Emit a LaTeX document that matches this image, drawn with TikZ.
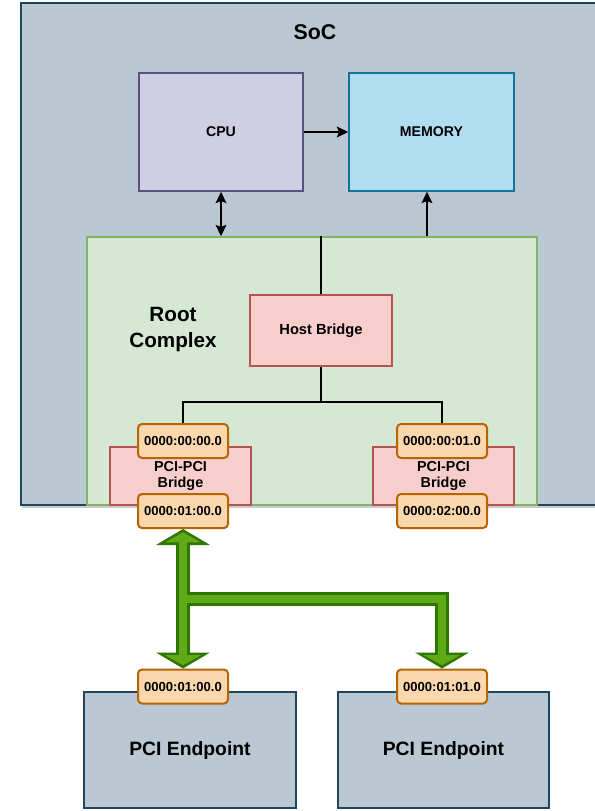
\documentclass[tikz,border=0pt]{standalone}
\usepackage{fontspec}
\setmainfont{Liberation Sans}
\usetikzlibrary{arrows.meta,shadows}
\definecolor{socfill}{HTML}{BAC8D3}
\definecolor{socline}{HTML}{23445D}
\definecolor{cpufill}{HTML}{D0CEE2}
\definecolor{cpuline}{HTML}{56517E}
\definecolor{memfill}{HTML}{B1DDF0}
\definecolor{memline}{HTML}{10739E}
\definecolor{rcfill}{HTML}{D5E8D4}
\definecolor{rcline}{HTML}{82B366}
\definecolor{brfill}{HTML}{F8CECC}
\definecolor{brline}{HTML}{B85450}
\definecolor{portfill}{HTML}{FAD7AC}
\definecolor{portline}{HTML}{B46504}
\definecolor{busdark}{HTML}{2D7600}
\definecolor{buslight}{HTML}{60A917}

\begin{document}
\begin{tikzpicture}[x=0.75pt, y=-0.75pt, every node/.style={font=\bfseries}, >={Stealth[length=8.5pt,width=8pt,inset=1.5pt]}]
  \tikzstyle{mybox}=[draw,line width=1.1pt,inner sep=0pt,align=center,font=\fontsize{10.6}{12}\bfseries]
  \tikzstyle{myport}=[draw=portline,fill=portfill,line width=1.5pt,rounded corners=3pt,minimum width=67.5pt,minimum height=25.5pt,inner sep=0pt,font=\fontsize{9.8}{10}\bfseries]
  \tikzstyle{mywire}=[line width=1.4pt]
  \tikzstyle{busout}=[draw=busdark,line width=10.5pt,line join=miter]
  \tikzstyle{busin}=[draw=buslight,line width=6pt,line join=miter,shorten >=2.5pt,shorten <=2.5pt]
  \useasboundingbox (0,0) rectangle (594,811);
  % SoC and its parts
  \node[mybox,draw=socline,fill=socfill,line width=1.5pt,minimum width=434.25pt,minimum height=376.5pt,
        drop shadow={shadow xshift=1pt,shadow yshift=-2.5pt,opacity=0.4}] (soc) at (310.5,254) {};
  \node[font=\fontsize{16}{18}\bfseries] (soclbl) at (315,32) {SoC};
  \node[mybox,draw=cpuline,fill=cpufill,minimum width=123pt,minimum height=88.5pt] (cpu) at (221,132) {CPU};
  \node[mybox,draw=memline,fill=memfill,minimum width=123.75pt,minimum height=88.5pt] (mem) at (431.5,132) {MEMORY};
  \node[mybox,draw=rcline,fill=rcfill,minimum width=337.5pt,minimum height=201pt] (rc) at (312,371) {};
  \node[font=\fontsize{15.5}{19.5}\bfseries,align=center] (rclbl) at (173,330) {Root\\Complex};
  \node[mybox,draw=brline,fill=brfill,minimum width=106.5pt,minimum height=53.25pt,font=\fontsize{11}{12}\bfseries] (host) at (321,330.5) {Host Bridge};
  \node[mybox,draw=brline,fill=brfill,minimum width=105.75pt,minimum height=43.5pt,font=\fontsize{10.8}{12.5}\bfseries] (brl) at (180.5,476) {PCI-PCI\\Bridge};
  \node[mybox,draw=brline,fill=brfill,minimum width=105.75pt,minimum height=43.5pt,font=\fontsize{10.8}{12.5}\bfseries] (brr) at (443.5,476) {PCI-PCI\\Bridge};
  \node[myport] (pu1) at (183,441) {0000:00:00.0};
  \node[myport] (pu2) at (442,441) {0000:00:01.0};
  \node[myport] (pl1) at (183,511) {0000:01:00.0};
  \node[myport] (pl2) at (442,511) {0000:02:00.0};
  % links inside the SoC
  \draw[mywire,->] (cpu.east) -- (mem.west);
  \draw[mywire,<->] (cpu.south) -- (cpu.south |- rc.north);
  \draw[mywire,->] ([xshift=-3.4pt]mem.south |- rc.north) -- ([xshift=-3.4pt]mem.south);
  \draw[mywire] (host.north |- rc.north) -- (host.north);
  \draw[mywire] (host.south) -- ++(0,35) -| (pu1.north);
  \draw[mywire] (host.south) -- ++(0,35) -| (pu2.north);
  % endpoints
  \node[mybox,draw=socline,fill=socfill,minimum width=159pt,minimum height=87pt,font=\fontsize{14.5}{16}\bfseries] (ep1) at (190,750) {PCI Endpoint};
  \node[mybox,draw=socline,fill=socfill,minimum width=158.25pt,minimum height=87pt,font=\fontsize{14.5}{16}\bfseries] (ep2) at (443.5,750) {PCI Endpoint};
  \node[myport] (pe1) at (183,686.5) {0000:01:00.0};
  \node[myport] (pe2) at (442,686.5) {0000:01:01.0};
  % PCI bus
  \coordinate (brk) at (183,599);
  \draw[busout,{Triangle[length=12pt,width=40.5pt,line width=0pt]}-{Triangle[length=12pt,width=40.5pt,line width=0pt]}] (pl1.south) -- (pe1.north);
  \draw[busout,-{Triangle[length=12pt,width=40.5pt,line width=0pt]}] (brk) -| (pe2.north);
  \draw[busin,{Triangle[length=7.5pt,width=27pt,line width=0pt]}-{Triangle[length=7.5pt,width=27pt,line width=0pt]}] (pl1.south) -- (pe1.north);
  \draw[busin,shorten <=0pt,-{Triangle[length=7.5pt,width=27pt,line width=0pt]}] (brk) -| (pe2.north);
\end{tikzpicture}
\end{document}
